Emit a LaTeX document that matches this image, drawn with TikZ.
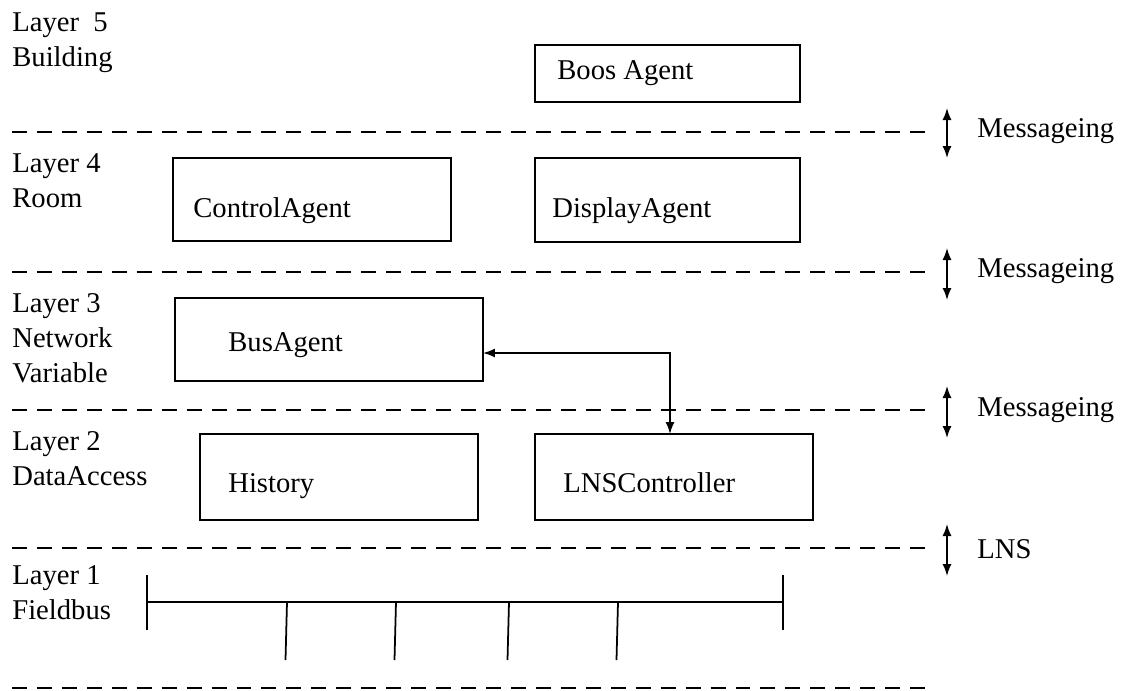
\documentclass[tikz,border=0pt]{standalone}
\usepackage{fontspec}
\setmainfont{Liberation Serif}
\usetikzlibrary{arrows.meta, positioning, calc}
\tikzset{
  agent/.style={
    rectangle,
    draw,
    line width=0.9pt,
    inner sep=0pt,
    outer sep=0pt
  },
  txt/.style={
    anchor=base west,
    inner sep=0pt,
    font=\fontsize{16.3}{19.8}\selectfont
  },
  layer/.style={
    anchor=north west,
    align=left,
    inner sep=0pt,
    font=\fontsize{16.3}{19.8}\selectfont
  },
  sep/.style={dash pattern=on 8.5pt off 5.7pt, line width=0.9pt},
  biarrow/.style={{Latex[length=2.4mm,width=1.8mm]}-{Latex[length=2.4mm,width=1.8mm]}, line width=0.9pt},
  bus/.style={line width=1pt}
}
\begin{document}
\begin{tikzpicture}[x=0.02cm, y=-0.02cm]
  \useasboundingbox (0,0) rectangle (1122,690);

  % layer separators
  \foreach \y in {132, 272, 410, 548, 688}
    \draw[sep] (12,\y) -- (935,\y);

  % layer names
  \node[layer] (l5) at (12,12.5) {Layer\ \ 5\\Building};
  \node[layer] (l4) at (12,153.5) {Layer 4\\Room};
  \node[layer] (l3) at (12,293.5) {Layer 3\\Network\\Variable};
  \node[layer] (l2) at (12,431.5) {Layer 2\\DataAccess};
  \node[layer] (l1) at (12,565.5) {Layer 1\\Fieldbus};

  % agents
  \node[agent, minimum width=5.3cm, minimum height=1.14cm] (boos) at (667.5,73.5) {};
  \node[txt] (boostxt) at (557,79) {Boos Agent};

  \node[agent, minimum width=5.56cm, minimum height=1.66cm] (control) at (312,199.5) {};
  \node[txt] (controltxt) at (193,217) {ControlAgent};

  \node[agent, minimum width=5.3cm, minimum height=1.68cm] (display) at (667.5,200) {};
  \node[txt] (displaytxt) at (552,217) {DisplayAgent};

  \node[agent, minimum width=6.16cm, minimum height=1.66cm] (busagent) at (329,339.5) {};
  \node[txt] (bustxt) at (228,351) {BusAgent};

  \node[agent, minimum width=5.56cm, minimum height=1.72cm] (history) at (339,477) {};
  \node[txt] (historytxt) at (228,492) {History};

  \node[agent, minimum width=5.56cm, minimum height=1.72cm] (lns) at (674,477) {};
  \node[txt] (lnstxt) at (563,492) {LNSController};

  \draw[biarrow] ($(lns.north)+(-4,0)$) |- ($(busagent.east)+(0,13.5)$);

  % messaging between layers
  \coordinate (m4a) at (947,108);  \coordinate (m4b) at (947,158);
  \coordinate (m3a) at (947,248);  \coordinate (m3b) at (947,300);
  \coordinate (m2a) at (947,386);  \coordinate (m2b) at (947,438);
  \coordinate (m1a) at (947,524);  \coordinate (m1b) at (947,576);
  \draw[biarrow] (m4a) -- (m4b);
  \draw[biarrow] (m3a) -- (m3b);
  \draw[biarrow] (m2a) -- (m2b);
  \draw[biarrow] (m1a) -- (m1b);
  \node[txt] (msg4) at (977,137) {Messageing};
  \node[txt] (msg3) at (977,277) {Messageing};
  \node[txt] (msg2) at (977,416) {Messageing};
  \node[txt] (msg1) at (977,558) {LNS};

  % fieldbus
  \draw[bus] (147,602) -- (783,602);
  \draw[bus] (147,575) -- (147,630);
  \draw[bus] (783,575) -- (783,630);
  \foreach \x in {287, 396, 509, 618}
    \draw[bus] (\x,602) -- (\x-1.5,660);
\end{tikzpicture}
\end{document}
